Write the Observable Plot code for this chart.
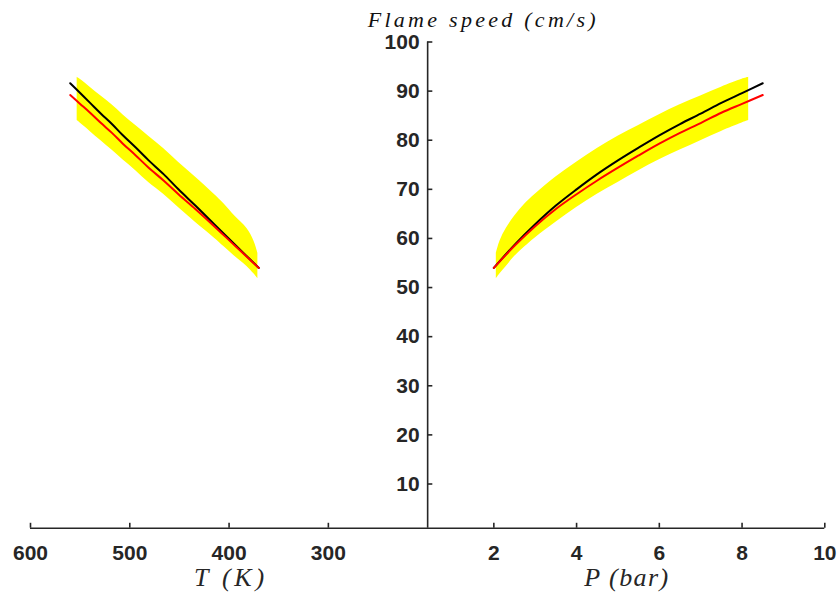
<!DOCTYPE html>
<html><head><meta charset="utf-8">
<script src="https://cdn.jsdelivr.net/npm/d3@7"></script>
<script src="https://cdn.jsdelivr.net/npm/@observablehq/plot@0.6"></script>
<style>body{margin:0;background:#fff;} #chart svg{display:block;}</style>
</head><body><div id="chart"></div>
<script>
// Simulated curves (same points shown vs temperature on the left, vs pressure on the right)
const pressureBar = [2.0, 2.5, 3.0, 3.5, 4.0, 4.5, 5.0, 5.5, 6.0, 6.5, 7.0, 7.5, 8.0, 8.5];
const tempK       = [370, 394, 415, 434, 451, 466, 481, 494, 507, 518, 529, 540, 550, 560];
const speedBlack  = [54.0, 58.7, 62.9, 66.7, 70.0, 73.1, 75.9, 78.5, 81.0, 83.3, 85.4, 87.6, 89.6, 91.6];
const speedRed    = [54.0, 58.5, 62.5, 66.0, 69.0, 71.8, 74.4, 76.9, 79.3, 81.5, 83.5, 85.6, 87.4, 89.2];

// Uncertainty band (yellow)
const bandP    = [2.06, 2.15, 2.3, 2.5, 2.75, 3.0, 3.5, 4.0, 4.5, 5.0, 5.5, 6.0, 6.5, 7.0, 7.5, 8.0, 8.16];
const bandT    = [371, 375, 382, 394, 405, 415, 434, 451, 466, 481, 494, 507, 518, 529, 540, 550, 553];
const bandLow  = [51.8, 52.8, 54.3, 56.3, 58.3, 60.1, 63.3, 66.3, 69.0, 71.4, 73.8, 76.0, 78.0, 79.9, 81.8, 83.5, 84.0];
const bandHigh = [57.0, 59.5, 62.0, 64.5, 67.0, 69.0, 72.5, 75.5, 78.3, 80.8, 83.0, 85.2, 87.2, 89.0, 90.8, 92.4, 92.8];

// Axis ticks
const yTicks = [10, 20, 30, 40, 50, 60, 70, 80, 90, 100];
const tTicks = [600, 500, 400, 300];
const pTicks = [2, 4, 6, 8, 10];

// Shared horizontal scale: left half is temperature (600 K -> 200 K), right half pressure (0.4 -> 10 bar)
const uT = T => -(T - 200) / 40;
const uP = P => (P - 0.4) / 0.96;

const lines = pressureBar.map((p, i) => ({P: p, T: tempK[i], black: speedBlack[i], red: speedRed[i]}));
const band = bandP.map((p, i) => ({P: p, T: bandT[i], low: bandLow[i], high: bandHigh[i]}));

const axisColor = "#262626";
const tickFont = "Liberation Sans, Arial, Helvetica, sans-serif";
const texFont = "Liberation Serif, Times New Roman, serif";
const crv = "catmull-rom";

const chart = Plot.plot({
  width: 840, height: 598,
  marginTop: 41.5, marginBottom: 70.3, marginLeft: 30, marginRight: 15.7,
  x: {domain: [-10, 10], axis: null},
  y: {domain: [1, 100], axis: null},
  style: {background: "white", overflow: "visible"},
  marks: [
    Plot.areaY(band, {x: d => uT(d.T), y1: "low", y2: "high", fill: "#ffff00", curve: crv}),
    Plot.areaY(band, {x: d => uP(d.P), y1: "low", y2: "high", fill: "#ffff00", curve: crv}),
    Plot.lineY(lines, {x: d => uT(d.T), y: "black", stroke: "#000000", strokeWidth: 2, curve: crv}),
    Plot.lineY(lines, {x: d => uT(d.T), y: "red", stroke: "#ff0000", strokeWidth: 2, curve: crv}),
    Plot.lineY(lines, {x: d => uP(d.P), y: "black", stroke: "#000000", strokeWidth: 2, curve: crv}),
    Plot.lineY(lines, {x: d => uP(d.P), y: "red", stroke: "#ff0000", strokeWidth: 2, curve: crv}),
    // axes
    Plot.ruleX([0], {y1: 1, y2: 100, stroke: axisColor, strokeWidth: 1.6}),
    Plot.ruleY([1], {x1: -10, x2: 10, stroke: axisColor, strokeWidth: 1.6}),
    Plot.ruleY(yTicks, {x1: 0, x2: 0.13, stroke: axisColor, strokeWidth: 1.6}),
    Plot.text(yTicks, {x: 0, y: d => d, dx: -8, textAnchor: "end", text: d => String(d),
      fontSize: 21, fontWeight: "bold", fontFamily: tickFont, fill: axisColor}),
    Plot.ruleX(tTicks, {x: uT, y1: 1, y2: 2, stroke: axisColor, strokeWidth: 1.6}),
    Plot.ruleX(pTicks, {x: uP, y1: 1, y2: 2, stroke: axisColor, strokeWidth: 1.6}),
    Plot.text(tTicks, {x: uT, y: 1, dy: 25, text: d => String(d),
      fontSize: 21, fontWeight: "bold", fontFamily: tickFont, fill: axisColor}),
    Plot.text(pTicks, {x: uP, y: 1, dy: 25, text: d => String(d),
      fontSize: 21, fontWeight: "bold", fontFamily: tickFont, fill: axisColor}),
    // labels
    Plot.text(["T (K)"], {x: uT(400), frameAnchor: "bottom", dy: 58, text: d => d, className: "lbl-t",
      fontSize: 26, fontStyle: "italic", fontFamily: texFont, fill: axisColor}),
    Plot.text(["P (bar)"], {x: 5, frameAnchor: "bottom", dy: 58, text: d => d, className: "lbl-p",
      fontSize: 26, fontStyle: "italic", fontFamily: texFont, fill: axisColor}),
    Plot.text(["Flame speed (cm/s)"], {frameAnchor: "top", dx: 54, dy: -31, text: d => d, className: "lbl-title",
      fontSize: 22, fontStyle: "italic", fontFamily: texFont, fill: "#111"})
  ]
});
document.getElementById("chart").appendChild(chart);
const fit = (cls, len) => d3.select(chart).selectAll("g." + cls + " text")
  .attr("textLength", len).attr("lengthAdjust", "spacing");
fit("lbl-t", 70); fit("lbl-p", 84); fit("lbl-title", 228);
</script></body></html>
